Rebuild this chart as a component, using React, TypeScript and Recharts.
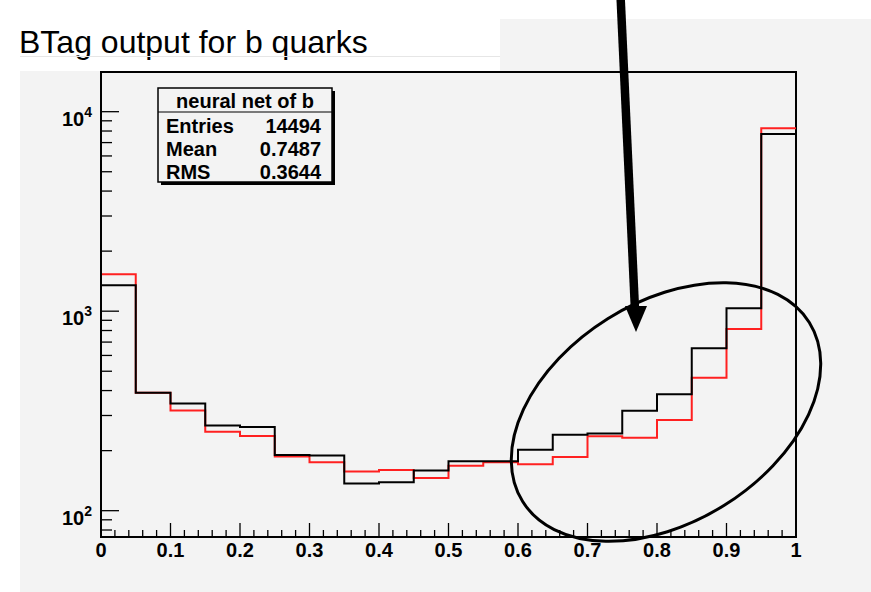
import React from 'react';
import { ComposedChart, Line, XAxis, YAxis, ReferenceArea } from 'recharts';

// ---- data ----
const binLow = [0, 0.05, 0.1, 0.15, 0.2, 0.25, 0.3, 0.35, 0.4, 0.45, 0.5, 0.55, 0.6, 0.65, 0.7, 0.75, 0.8, 0.85, 0.9, 0.95];
const blackCounts = [1349, 390, 345, 267, 263, 190, 189, 137, 139, 159, 177, 177, 202, 240, 244, 317, 383, 652, 1034, 7730];
const redCounts = [1531, 390, 318, 249, 237, 187, 175, 157, 160, 146, 168, 175, 171, 186, 236, 232, 285, 464, 815, 8260];
const xTickLabels = ['0', '0.1', '0.2', '0.3', '0.4', '0.5', '0.6', '0.7', '0.8', '0.9', '1'];
const yDecades = [100, 1000, 10000];
const yExponents = ['2', '3', '4'];
const titleText = 'BTag output for b quarks';
const statsTitle = 'neural net of b';
const statsLabels = ['Entries', 'Mean', 'RMS'];
const statsValues = ['14494', '0.7487', '0.3644'];

const X_MAX = 1;
const Y_DOMAIN: [number, number] = [73.8, 15810];

const table = [
  ...binLow.map((x, i) => ({ x, black: blackCounts[i], red: redCounts[i] })),
  { x: X_MAX, black: blackCounts[blackCounts.length - 1], red: redCounts[redCounts.length - 1] },
];

const xTicks = Array.from({ length: 51 }, (_, i) => i / 50);
const yTicks: number[] = [];
[10, 100, 1000].forEach((d) => {
  for (let m = 1; m <= 9; m++) {
    const v = m * d;
    if (v >= Y_DOMAIN[0]) yTicks.push(v);
  }
});
yTicks.push(10000);

const FONT = '"Liberation Sans", Arial, Helvetica, sans-serif';
const BG = '#f3f3f3';

const XTick = (props: any) => {
  const { x, y, payload } = props;
  const i = Math.round(payload.value * 50);
  const major = i % 5 === 0;
  return (
    <g>
      <line x1={x} x2={x} y1={y} y2={y - (major ? 14 : 7)} stroke="#000" strokeWidth={1.3} />
      {major && (
        <text x={x} y={y + 20} textAnchor="middle" fontFamily={FONT} fontWeight="bold" fontSize={20} fill="#000">
          {xTickLabels[i / 5]}
        </text>
      )}
    </g>
  );
};

const YTick = (props: any) => {
  const { x, y, payload } = props;
  const k = yDecades.indexOf(payload.value);
  const major = k >= 0;
  return (
    <g>
      <line x1={x} x2={x + (major ? 18 : 11)} y1={y} y2={y} stroke="#000" strokeWidth={1.3} />
      {major && (
        <text x={x - 9} y={y + 14} textAnchor="end" fontFamily={FONT} fontWeight="bold" fontSize={20} fill="#000">
          <tspan>10</tspan>
          <tspan dy={-9} fontSize={14}>{yExponents[k]}</tspan>
        </text>
      )}
    </g>
  );
};

export default function App() {
  return (
    <div style={{ position: 'absolute', left: 0, top: 0, width: 871, height: 592, background: '#fff', overflow: 'hidden' }}>
      <div style={{ position: 'absolute', left: 20, top: 71, width: 851, height: 521, background: BG }} />
      <div style={{ position: 'absolute', left: 500, top: 19, width: 371, height: 52, background: BG }} />
      <div style={{ position: 'absolute', left: 0, top: 0 }}>
        <ComposedChart width={871} height={592} data={table} margin={{ top: 72, right: 75, bottom: 0, left: 0 }}>
          <XAxis
            dataKey="x"
            type="number"
            domain={[0, X_MAX]}
            ticks={xTicks}
            interval={0}
            tick={<XTick />}
            tickLine={false}
            tickSize={0}
            tickMargin={0}
            height={55}
            axisLine={{ stroke: '#000', strokeWidth: 2 }}
            allowDataOverflow
          />
          <YAxis
            type="number"
            scale="log"
            domain={Y_DOMAIN}
            ticks={yTicks}
            interval={0}
            tick={<YTick />}
            tickLine={false}
            tickSize={0}
            tickMargin={0}
            width={101}
            axisLine={{ stroke: '#000', strokeWidth: 2 }}
            allowDataOverflow
          />
          <ReferenceArea x1={0} x2={X_MAX} y1={Y_DOMAIN[0]} y2={Y_DOMAIN[1]} fill="none" stroke="#000" strokeWidth={2} ifOverflow="visible" />
          <Line type="stepAfter" dataKey="red" stroke="#ff2020" strokeWidth={2} dot={false} activeDot={false} isAnimationActive={false} />
          <Line type="stepAfter" dataKey="black" stroke="#000" strokeWidth={2} dot={false} activeDot={false} isAnimationActive={false} />
        </ComposedChart>
      </div>
      <svg width={871} height={592} style={{ position: 'absolute', left: 0, top: 0, pointerEvents: 'none' }}>
        <text x={19} y={53} fontFamily={FONT} fontSize={32} fill="#000">{titleText}</text>
        <line x1={20} x2={500} y1={56.5} y2={56.5} stroke="#e6e6e6" strokeWidth={1} />
        <rect x={161} y={91} width={174} height={94} fill="#000" />
        <rect x={158} y={88} width={174} height={94} fill={BG} stroke="#000" strokeWidth={1.5} />
        <line x1={158} x2={332} y1={112} y2={112} stroke="#000" strokeWidth={1.2} />
        <text x={245} y={108} textAnchor="middle" fontFamily={FONT} fontWeight="bold" fontSize={20} fill="#000">{statsTitle}</text>
        {statsLabels.map((l, i) => (
          <g key={l}>
            <text x={166} y={132.5 + i * 23.3} fontFamily={FONT} fontWeight="bold" fontSize={20} fill="#000">{l}</text>
            <text x={321} y={132.5 + i * 23.3} textAnchor="end" fontFamily={FONT} fontWeight="bold" fontSize={20} fill="#000">{statsValues[i]}</text>
          </g>
        ))}
        <ellipse cx={666} cy={412} rx={169} ry={110} transform="rotate(-32 666 412)" fill="none" stroke="#000" strokeWidth={3} />
        <line x1={620.5} y1={-5} x2={635} y2={310} stroke="#000" strokeWidth={8.5} />
        <polygon points="625,306 647,306 636,332" fill="#000" />
      </svg>
    </div>
  );
}
